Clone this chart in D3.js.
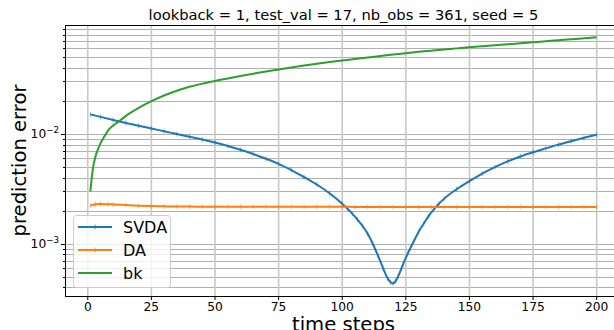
<!DOCTYPE html>
<html>
<head>
<meta charset="utf-8">
<script src="https://cdn.jsdelivr.net/npm/d3@7"></script>
<style>
  body { margin: 0; background: #fff; }
  text { font-family: "DejaVu Sans", sans-serif; fill: #000; }
</style>
</head>
<body>
<div class="chart"></div>
<script>
// values
var svdaSteps = [1,5,10,15,20,25,30,35,40,45,50,55,60,65,70,75,80,85,90,95,100,
    102,104,106,108,110,112,114,116,118,119,120,121,122,
    124,126,128,130,132,134,136,138,140,145,150,155,160,165,170,175,180,185,190,195,200];
var svda = [0.01504,0.01427,0.01338,0.01256,0.01185,0.0112,0.01056,0.00998,0.00941,0.00888,0.00834,
    0.00776,0.00717,0.00655,0.00594,0.00534,0.00468,0.00404,0.00346,0.00288,0.00231,
    0.00209,0.00187,0.00166,0.00145,0.00123,0.001,0.000784,0.000603,0.000477,
    0.000446,0.000435,0.000458,0.000506,
    0.000658,0.000837,0.00104,0.00128,0.00152,0.00179,0.00205,0.00231,0.00256,
    0.00314,0.00372,0.00435,0.00498,0.00561,0.00623,0.00681,0.00738,0.00798,0.00858,0.0092,0.00983];

var daSteps = [1,3,5,8,10,15,20,25,30,35,40,45,50,55,60,65,70,75,80,85,90,95,100,
    105,110,115,120,125,130,135,140,145,150,155,160,165,170,175,180,185,190,195,200];
var da = [0.00222,0.00229,0.0023,0.00229,0.00228,0.00225,0.00222,0.0022,0.00219,0.00218,0.00218,
    0.00217,0.00217,0.00217,0.00217,0.00217,0.00217,0.00217,0.00217,0.00217,0.00217,0.00217,0.00217,
    0.00216,0.00216,0.00216,0.00216,0.00216,0.00216,0.00216,0.00216,0.00216,0.00216,0.00216,
    0.00216,0.00216,0.00216,0.00216,0.00216,0.00216,0.00216,0.00216,0.00216];

var bkSteps = [1,2,3,4,5,6,8,10,12,15,20,25,30,35,40,45,50,55,60,65,70,75,80,85,90,95,100,
    105,110,115,120,125,130,135,140,145,150,155,160,165,170,175,180,185,190,195,200];
var bk = [0.00299,0.00481,0.00618,0.00723,0.0082,0.00901,0.01076,0.01195,0.01286,
    0.01458,0.01723,0.01983,0.02234,0.0247,0.02681,0.02866,0.03034,0.03195,0.0336,0.03526,
    0.03692,0.03858,0.04023,0.04186,0.04347,0.04504,0.04658,
    0.04806,0.04961,0.05118,0.0527,0.05427,0.05577,0.05719,0.05864,0.06001,0.0614,0.0627,
    0.06403,0.06539,0.06677,0.06818,0.06963,0.0711,0.07261,0.07413,0.07569];

var xTicks = [0, 25, 50, 75, 100, 125, 150, 175, 200];
var yMajor = [1e-3, 1e-2];
var yMajorLabels = ["\u22123", "\u22122"];
var seriesNames = ["SVDA", "DA", "bk"];
var colors = ["#1f77b4", "#ff7f0e", "#2ca02c"];
var title = "lookback = 1, test_val = 17, nb_obs = 361, seed = 5";

var svgWidth = 614;
var svgHeight = 330;
var plot = { left: 65, top: 25, right: 622, bottom: 296 };

var svg = d3.select(".chart")
    .append("svg")
    .attr("width", svgWidth)
    .attr("height", svgHeight)
    .style("display", "block");

svg.append("rect").attr("width", svgWidth).attr("height", svgHeight).attr("fill", "#fff");

var x = d3.scaleLinear()
    .domain([-8.95, 209.95])
    .range([plot.left, plot.right]);

var y = d3.scaleLog()
    .domain([Math.pow(10, -3.476), Math.pow(10, -1.009)])
    .range([plot.bottom, plot.top]);

// minor + major log ticks for the grid
var yAll = y.ticks().filter(function(v) { return v >= y.domain()[0] && v <= y.domain()[1]; });

var grid = svg.append("g");
grid.selectAll(".hg")
    .data(yAll)
    .enter()
    .append("line")
    .attr("x1", plot.left).attr("x2", plot.right)
    .attr("y1", d => Math.round(y(d)) + 0.5).attr("y2", d => Math.round(y(d)) + 0.5)
    .attr("stroke", "#b0b0b0")
    .attr("stroke-width", 1);

grid.selectAll(".vg")
    .data(xTicks)
    .enter()
    .append("line")
    .attr("x1", d => x(d)).attr("x2", d => x(d))
    .attr("y1", plot.top).attr("y2", plot.bottom)
    .attr("stroke", "#c8c8c8")
    .attr("stroke-width", 1.6);

// lines
svg.append("clipPath").attr("id", "clip")
    .append("rect")
    .attr("x", plot.left).attr("y", plot.top)
    .attr("width", plot.right - plot.left).attr("height", plot.bottom - plot.top);

var line = d3.line()
    .x(d => x(d[0]))
    .y(d => y(d[1]))
    .curve(d3.curveMonotoneX);

var series = [
    { steps: svdaSteps, vals: svda, marker: true },
    { steps: daSteps, vals: da, marker: true },
    { steps: bkSteps, vals: bk, marker: false }
];

var lines = svg.append("g").attr("clip-path", "url(#clip)");

series.forEach(function(s, i) {
    var pts = s.steps.map(function(t, j) { return [t, s.vals[j]]; });
    lines.append("path")
        .datum(pts)
        .attr("fill", "none")
        .attr("stroke", colors[i])
        .attr("stroke-width", 2)
        .attr("d", line);
    if (s.marker) {
        lines.selectAll(".m" + i)
            .data(pts)
            .enter()
            .append("line")
            .attr("x1", d => x(d[0])).attr("x2", d => x(d[0]))
            .attr("y1", d => y(d[1]) - 2.5).attr("y2", d => y(d[1]) + 2.5)
            .attr("stroke", colors[i])
            .attr("stroke-opacity", 0.7)
            .attr("stroke-width", 0.8);
    }
});

// spines
svg.append("line").attr("x1", plot.left + 0.5).attr("x2", plot.left + 0.5)
    .attr("y1", plot.top).attr("y2", plot.bottom).attr("stroke", "#000").attr("stroke-width", 1);
svg.append("line").attr("x1", plot.left).attr("x2", plot.right)
    .attr("y1", plot.bottom + 0.5).attr("y2", plot.bottom + 0.5).attr("stroke", "#000").attr("stroke-width", 1);
svg.append("line").attr("x1", plot.left).attr("x2", plot.right)
    .attr("y1", plot.top + 0.5).attr("y2", plot.top + 0.5).attr("stroke", "#000").attr("stroke-width", 1);

// x ticks
var xAxis = svg.append("g");
xAxis.selectAll("line")
    .data(xTicks)
    .enter()
    .append("line")
    .attr("x1", d => x(d)).attr("x2", d => x(d))
    .attr("y1", plot.bottom).attr("y2", plot.bottom + 4)
    .attr("stroke", "#000");
xAxis.selectAll("text")
    .data(xTicks)
    .enter()
    .append("text")
    .attr("x", d => x(d))
    .attr("y", 310.5)
    .attr("text-anchor", "middle")
    .style("font-size", "12.25px")
    .text(d => d);

// y ticks (major and minor)
svg.append("g").selectAll("line")
    .data(yAll)
    .enter()
    .append("line")
    .attr("x1", plot.left).attr("x2", d => yMajor.indexOf(d) >= 0 ? plot.left - 4 : plot.left - 2)
    .attr("y1", d => Math.round(y(d)) + 0.5).attr("y2", d => Math.round(y(d)) + 0.5)
    .attr("stroke", "#000");

var yLab = svg.append("g").selectAll("text")
    .data(yMajor)
    .enter()
    .append("text")
    .attr("x", plot.left - 6)
    .attr("y", d => y(d) + 4.5)
    .attr("text-anchor", "end")
    .style("font-size", "12.25px");
yLab.append("tspan").text("10");
yLab.append("tspan")
    .attr("dy", -5)
    .style("font-size", "8.7px")
    .text((d, i) => yMajorLabels[i]);

// labels
svg.append("text")
    .attr("x", (plot.left + plot.right) / 2)
    .attr("y", 20)
    .attr("text-anchor", "middle")
    .style("font-size", "14.7px")
    .text(title);

svg.append("text")
    .attr("x", (plot.left + plot.right) / 2)
    .attr("y", 331)
    .attr("text-anchor", "middle")
    .style("font-size", "19.6px")
    .text("time steps");

svg.append("text")
    .attr("transform", `translate(26, ${(plot.top + plot.bottom) / 2}) rotate(-90)`)
    .attr("text-anchor", "middle")
    .style("font-size", "19.6px")
    .text("prediction error");

// legend
var legend = svg.append("g");
legend.append("rect")
    .attr("x", 73.5).attr("y", 215.5)
    .attr("width", 97).attr("height", 72)
    .attr("rx", 3)
    .attr("fill", "#fff").attr("fill-opacity", 0.8)
    .attr("stroke", "#cccccc");

seriesNames.forEach(function(name, i) {
    var ly = 227 + i * 23;
    legend.append("line")
        .attr("x1", 78).attr("x2", 112)
        .attr("y1", ly).attr("y2", ly)
        .attr("stroke", colors[i]).attr("stroke-width", 2);
    if (series[i].marker) {
        legend.append("line")
            .attr("x1", 95).attr("x2", 95)
            .attr("y1", ly - 2.5).attr("y2", ly + 2.5)
            .attr("stroke", colors[i]).attr("stroke-width", 0.8);
    }
    legend.append("text")
        .attr("x", 123)
        .attr("y", ly + 6)
        .style("font-size", "16px")
        .text(name);
});
</script>
</body>
</html>
